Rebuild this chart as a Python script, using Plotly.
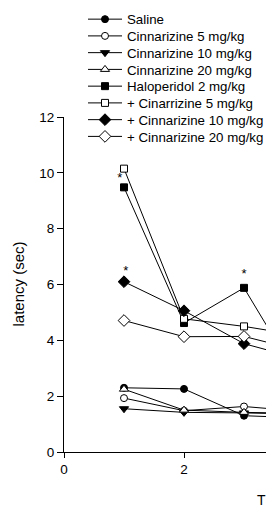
import plotly.graph_objects as go

# ---- data ----
days = [1, 2, 3, 4]
saline = [2.30, 2.26, 1.30, 1.22]
cinn5 = [1.93, 1.48, 1.63, 1.45]
cinn10 = [1.55, 1.42, 1.40, 1.36]
cinn20 = [2.25, 1.50, 1.42, 1.38]
halo2 = [9.48, 4.62, 5.88, 2.30]
halo_cinn5 = [10.15, 4.77, 4.50, 4.15]
halo_cinn10 = [6.10, 5.06, 3.88, 3.30]
halo_cinn20 = [4.71, 4.13, 4.14, 3.60]

series_names = [
    "Saline",
    "Cinnarizine 5 mg/kg",
    "Cinnarizine 10 mg/kg",
    "Cinnarizine 20 mg/kg",
    "Haloperidol 2 mg/kg",
    "+ Cinarrizine 5 mg/kg",
    "+ Cinnarizine 10 mg/kg",
    "+ Cinnarizine 20 mg/kg",
]
series_values = [saline, cinn5, cinn10, cinn20, halo2, halo_cinn5, halo_cinn10, halo_cinn20]

sig_x = [0.93, 1.03, 3.0]
sig_y = [9.78, 6.45, 6.35]
sig_text = ["*", "*", "*"]

x_ticks = [0, 2, 4]
y_ticks = [0, 2, 4, 6, 8, 10, 12]

# ---- styles ----
styles = [
    dict(symbol="circle", color="black", size=7),
    dict(symbol="circle", color="white", size=7),
    dict(symbol="triangle-down", color="black", size=8),
    dict(symbol="triangle-up", color="white", size=8),
    dict(symbol="square", color="black", size=7),
    dict(symbol="square", color="white", size=7),
    dict(symbol="diamond", color="black", size=9),
    dict(symbol="diamond", color="white", size=9),
]

FONT = "Liberation Sans, Arial, sans-serif"

W, H = 266, 509
L, R, T, B = 64, 0, 117, 57
pw = W - L - R
ph = H - T - B
px_per_unit = 60.0

legend_ids = ["legend"] + ["legend%d" % i for i in range(2, len(series_names) + 1)]

fig = go.Figure()
for name, vals, st, lid in zip(series_names, series_values, styles, legend_ids):
    fig.add_trace(go.Scatter(
        x=days, y=vals, name=name, mode="lines+markers", legend=lid,
        line=dict(color="black", width=1),
        marker=dict(symbol=st["symbol"], size=st["size"], color=st["color"],
                    line=dict(color="black", width=1)),
    ))

fig.add_trace(go.Scatter(
    x=sig_x, y=sig_y, text=sig_text, mode="text", showlegend=False,
    textfont=dict(family=FONT, size=13, color="black"),
    textposition="middle center",
))

legend_layout = {}
for i, lid in enumerate(legend_ids):
    row_y = 19.5 + 16.75 * i
    legend_layout[lid] = dict(
        x=(83 - L) / pw, y=(H - B - row_y) / ph, xanchor="left", yanchor="middle",
        bgcolor="rgba(0,0,0,0)", borderwidth=0,
        font=dict(family=FONT, size=13.3, color="black"),
        itemwidth=34, tracegroupgap=0,
    )

fig.update_layout(
    width=W, height=H,
    margin=dict(l=L, r=R, t=T, b=B, pad=0, autoexpand=False),
    paper_bgcolor="white", plot_bgcolor="white",
    font=dict(family=FONT, size=13.5, color="black"),
    showlegend=True,
    hovermode=False,
    xaxis=dict(
        range=[0, pw / px_per_unit], tickvals=x_ticks, ticks="outside", ticklen=5,
        tickwidth=1, tickcolor="black", showline=True, linecolor="black", linewidth=1,
        showgrid=False, zeroline=False, tickfont=dict(size=13.5),
    ),
    yaxis=dict(
        range=[0, 12], tickvals=y_ticks, ticks="outside", ticklen=6,
        tickwidth=1, tickcolor="black", showline=True, linecolor="black", linewidth=1,
        showgrid=False, zeroline=False, tickfont=dict(size=13.5),
    ),
    annotations=[
        dict(text="latency (sec)", xref="paper", yref="paper",
             x=(18 - L) / pw, y=0.5, textangle=-90, showarrow=False,
             xanchor="center", yanchor="middle", font=dict(size=15)),
        dict(text="T", xref="paper", yref="paper",
             x=(255 - L) / pw, y=(H - B - 500) / ph, showarrow=False,
             xanchor="left", yanchor="middle", font=dict(size=14)),
    ],
    **legend_layout,
)

fig.write_html(
    "out.html",
    config={"displayModeBar": False, "staticPlot": True},
    post_script="document.body.style.margin='0';document.body.style.overflow='hidden';",
)
